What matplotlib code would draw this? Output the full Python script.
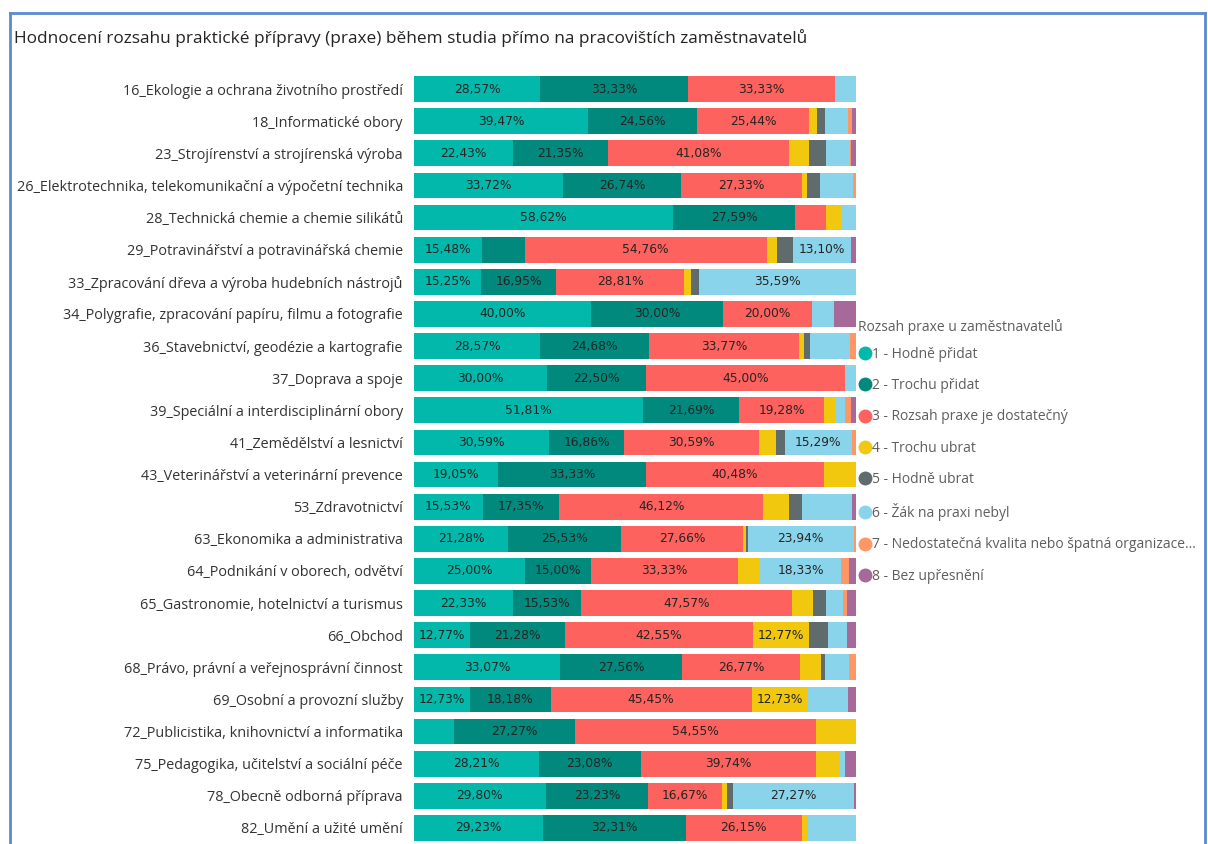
import matplotlib
matplotlib.use("Agg")
import matplotlib.pyplot as plt
from matplotlib.lines import Line2D
import numpy as np

categories = [
    "16_Ekologie a ochrana životního prostředí",
    "18_Informatické obory",
    "23_Strojírenství a strojírenská výroba",
    "26_Elektrotechnika, telekomunikační a výpočetní technika",
    "28_Technická chemie a chemie silikátů",
    "29_Potravinářství a potravinářská chemie",
    "33_Zpracování dřeva a výroba hudebních nástrojů",
    "34_Polygrafie, zpracování papíru, filmu a fotografie",
    "36_Stavebnictví, geodézie a kartografie",
    "37_Doprava a spoje",
    "39_Speciální a interdisciplinární obory",
    "41_Zemědělství a lesnictví",
    "43_Veterinářství a veterinární prevence",
    "53_Zdravotnictví",
    "63_Ekonomika a administrativa",
    "64_Podnikání v oborech, odvětví",
    "65_Gastronomie, hotelnictví a turismus",
    "66_Obchod",
    "68_Právo, právní a veřejnosprávní činnost",
    "69_Osobní a provozní služby",
    "72_Publicistika, knihovnictví a informatika",
    "75_Pedagogika, učitelství a sociální péče",
    "78_Obecně odborná příprava",
    "82_Umění a užité umění",
]

series_names = [
    "1 - Hodně přidat",
    "2 - Trochu přidat",
    "3 - Rozsah praxe je dostatečný",
    "4 - Trochu ubrat",
    "5 - Hodně ubrat",
    "6 - Žák na praxi nebyl",
    "7 - Nedostatečná kvalita nebo špatná organizace...",
    "8 - Bez upřesnění",
]

hodne_pridat = [28.57, 39.47, 22.43, 33.72, 58.62, 15.48, 15.25, 40.00, 28.57, 30.00, 51.81, 30.59,
                19.05, 15.53, 21.28, 25.00, 22.33, 12.77, 33.07, 12.73, 9.09, 28.21, 29.80, 29.23]
trochu_pridat = [33.33, 24.56, 21.35, 26.74, 27.59, 9.52, 16.95, 30.00, 24.68, 22.50, 21.69, 16.86,
                 33.33, 17.35, 25.53, 15.00, 15.53, 21.28, 27.56, 18.18, 27.27, 23.08, 23.23, 32.31]
dostatecny = [33.33, 25.44, 41.08, 27.33, 6.90, 54.76, 28.81, 20.00, 33.77, 45.00, 19.28, 30.59,
              40.48, 46.12, 27.66, 33.33, 47.57, 42.55, 26.77, 45.45, 54.55, 39.74, 16.67, 26.15]
trochu_ubrat = [0, 1.75, 4.60, 1.16, 3.45, 2.38, 1.69, 0, 1.30, 0, 2.41, 3.90,
                7.14, 5.94, 0.53, 5.00, 4.85, 12.77, 4.72, 12.73, 9.09, 5.13, 1.01, 1.54]
hodne_ubrat = [0, 1.75, 3.80, 2.91, 0, 3.57, 1.69, 0, 1.30, 0, 0, 1.90,
               0, 2.74, 0.53, 0, 2.91, 4.26, 0.79, 0, 0, 0, 1.52, 0]
nebyl = [4.76, 5.26, 5.40, 7.56, 3.45, 13.10, 35.59, 5.00, 9.09, 2.50, 2.41, 15.29,
         0, 11.42, 23.94, 18.33, 3.88, 4.26, 5.51, 9.09, 0, 1.28, 27.27, 10.77]
nedostatecna = [0, 0.88, 0.27, 0.58, 0, 0, 0, 0, 1.30, 0, 1.20, 0.87,
                0, 0, 0.53, 1.67, 0.97, 0, 1.57, 0, 0, 0, 0, 0]
bez_upresneni = [0, 0.88, 1.08, 0, 0, 1.19, 0, 5.00, 0, 0, 1.20, 0,
                 0, 0.91, 0, 1.67, 1.94, 2.13, 0, 1.82, 0, 2.56, 0.51, 0]

series_values = [hodne_pridat, trochu_pridat, dostatecny, trochu_ubrat,
                 hodne_ubrat, nebyl, nedostatecna, bez_upresneni]
colors = ["#01B8AA", "#01897D", "#FD625E", "#F2C80F", "#5F6B6D", "#8AD4EB", "#FE9666", "#A66999"]

W, H = 1208, 844
fig = plt.figure(figsize=(W / 100, H / 100), dpi=100)
fig.patch.set_facecolor("white")

txt_color = "#333333"
font = ["Open Sans", "DejaVu Sans"]
label_font = ["DejaVu Sans"]

# frame
frame_color = "#5B8BCF"
fig.add_artist(Line2D([10 / W, 1205 / W], [1 - 13 / H, 1 - 13 / H], color=frame_color, lw=2, transform=fig.transFigure))
fig.add_artist(Line2D([10 / W, 10 / W], [1 - 13 / H, 0], color=frame_color, lw=2, transform=fig.transFigure))
fig.add_artist(Line2D([1205 / W, 1205 / W], [1 - 13 / H, 0], color=frame_color, lw=2, transform=fig.transFigure))

fig.text(14 / W, 1 - 38 / H, "Hodnocení rozsahu praktické přípravy (praxe) během studia přímo na pracovištích zaměstnavatelů",
         fontsize=12.4, color="#252423", va="center", ha="left", family=font)

ax_left, ax_right = 414, 856
ax_top, ax_bottom = 73, 844
ax = fig.add_axes([ax_left / W, 1 - ax_bottom / H, (ax_right - ax_left) / W, (ax_bottom - ax_top) / H])

y = np.arange(len(categories))
left = np.zeros(len(categories))
for name, vals, col in zip(series_names, series_values, colors):
    vals = np.array(vals, dtype=float)
    ax.barh(y, vals, left=left, height=0.8, color=col, edgecolor="none", label=name)
    for yi, (l, v) in enumerate(zip(left, vals)):
        if v >= 12:
            ax.text(l + v / 2, yi, f"{v:.2f}%".replace(".", ","), ha="center", va="center",
                    fontsize=8.8, color="#252423", family=label_font)
    left += vals

ax.set_xlim(0, 100)
ax.set_ylim(len(categories) - 0.5, -0.5)
ax.set_yticks(y)
ax.set_yticklabels(categories, fontsize=10.4, color=txt_color, family=font)
ax.tick_params(axis="y", length=0, pad=8)
ax.set_xticks([])
for s in ax.spines.values():
    s.set_visible(False)

# legend
fig.text(858 / W, 1 - 327 / H, "Rozsah praxe u zaměstnavatelů", fontsize=10, color="#605E5C",
         va="center", ha="left", family=font)
handles = [Line2D([], [], marker="o", linestyle="none", markersize=9, markerfacecolor=c, markeredgecolor=c)
           for c in colors]
leg = fig.legend(handles, series_names, loc="upper left", bbox_to_anchor=(857 / W, 1 - 347 / H),
                 frameon=False, labelspacing=1.17, handletextpad=0.0,
                 handlelength=1.1, borderpad=0, borderaxespad=0,
                 prop={"family": font, "size": 10})
for t in leg.get_texts():
    t.set_color("#605E5C")

fig.savefig("out.png", dpi=100, facecolor="white")
